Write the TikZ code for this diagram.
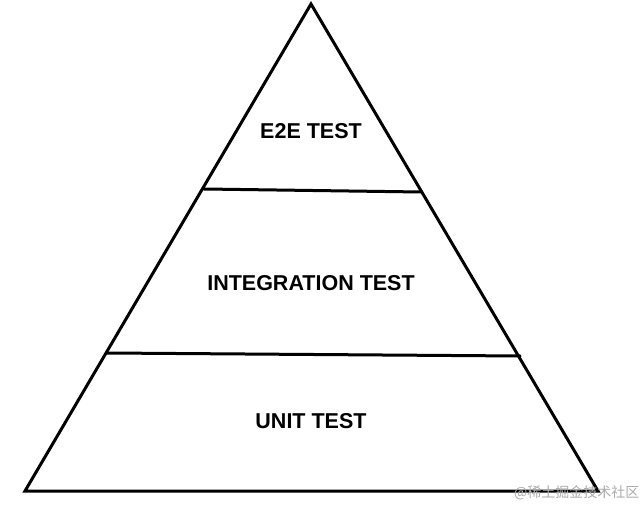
\documentclass[tikz,border=0pt]{standalone}
\usepackage{fontspec}
\setmainfont{Liberation Sans}
\newfontfamily\cjk{Noto Sans CJK SC}
\begin{document}
\begin{tikzpicture}[x=1pt,y=1pt,
  edge/.style={line width=3pt, line join=miter, line cap=round},
  lbl/.style={font=\fontsize{21.5}{25}\selectfont\bfseries, inner sep=0pt},
  wm/.style={font=\cjk\fontsize{14}{16}\selectfont, text=black!33, inner sep=0pt, anchor=west}]
\useasboundingbox (0,0) rectangle (642,506);
\coordinate (apex) at (311,502);
\coordinate (bl) at (25,15);
\coordinate (br) at (598,15);
\coordinate (l1a) at (204,317);
\coordinate (l1b) at (421,314);
\coordinate (l2a) at (107,153);
\coordinate (l2b) at (520,150);
\draw[edge] (apex) -- (bl) -- (br) -- cycle;
\draw[edge] (l1a) -- (l1b);
\draw[edge] (l2a) -- (l2b);
\node[lbl] (e2e) at (311,375) {E2E TEST};
\node[lbl] (integ) at (311,223) {INTEGRATION TEST};
\node[lbl] (unit) at (311,85) {UNIT TEST};
\node[wm] (mark) at (514,13) {@稀土掘金技术社区};
\end{tikzpicture}
\end{document}
